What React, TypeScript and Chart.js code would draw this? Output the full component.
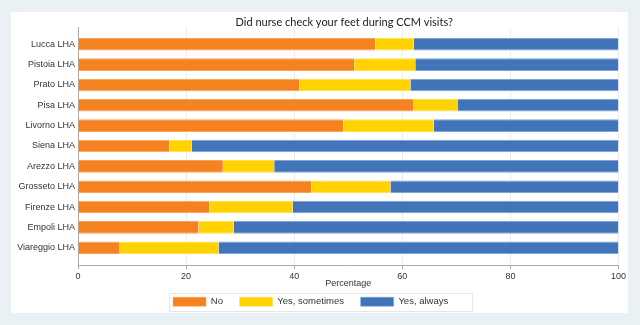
import React, { useEffect, useRef } from "react";
import { Chart, registerables } from "chart.js";

Chart.register(...registerables);

const categories = [
  "Lucca LHA",
  "Pistoia LHA",
  "Prato LHA",
  "Pisa LHA",
  "Livorno LHA",
  "Siena LHA",
  "Arezzo LHA",
  "Grosseto LHA",
  "Firenze LHA",
  "Empoli LHA",
  "Viareggio LHA",
];
const noValues = [55.0, 51.1, 41.0, 62.0, 49.1, 16.9, 26.8, 43.2, 24.3, 22.3, 7.6];
const sometimesValues = [7.1, 11.3, 20.5, 8.2, 16.7, 4.1, 9.5, 14.6, 15.4, 6.5, 18.4];
const alwaysValues = [37.9, 37.6, 38.5, 29.8, 34.2, 79.0, 63.7, 42.2, 60.3, 71.2, 74.0];
const seriesNames = ["No", "Yes, sometimes", "Yes, always"];
const xTicks = [0, 20, 40, 60, 80, 100];
const titleText = "Did nurse check your feet during CCM visits?";
const xTitle = "Percentage";

const FONT = "'Liberation Sans', Arial, sans-serif";
const LEGEND_SHIFT = 7;

export default function App() {
  const ref = useRef<HTMLCanvasElement | null>(null);

  useEffect(() => {
    document.body.style.margin = "0";
    const canvas = ref.current;
    if (!canvas) return;

    const toPts = (vals: number[]) => vals.map((v, i) => ({ x: v, y: i }));

    const titlePlugin = {
      id: "centeredTitle",
      afterDraw(chart: any) {
        const { ctx, chartArea } = chart;
        ctx.save();
        ctx.font = "11px Lato, sans-serif";
        ctx.fillStyle = "#222";
        ctx.textAlign = "center";
        ctx.textBaseline = "middle";
        ctx.fillText(titleText, (chartArea.left + chartArea.right) / 2 - 4, 10.5);
        ctx.restore();
      },
    };

    const legendShift = {
      id: "legendShift",
      afterLayout(chart: any) {
        const lg = chart.legend;
        if (!lg) return;
        lg.left += LEGEND_SHIFT;
        lg.right += LEGEND_SHIFT;
      },
    };

    const legendFrame = {
      id: "legendFrame",
      afterDraw(chart: any) {
        const lg = chart.legend;
        if (!lg || !lg.legendHitBoxes || !lg.legendHitBoxes.length) return;
        const boxes = lg.legendHitBoxes;
        const first = boxes[0];
        const last = boxes[boxes.length - 1];
        const { ctx } = chart;
        ctx.save();
        ctx.strokeStyle = "#e6e6e6";
        ctx.lineWidth = 1;
        ctx.strokeRect(
          Math.round(first.left - 4) + 0.5,
          Math.round(first.top - 4) + 0.5,
          Math.round(last.left + last.width - first.left + 4),
          18
        );
        ctx.restore();
      },
    };

    const chart = new Chart(canvas, {
      type: "bar",
      data: {
        datasets: [
          {
            label: seriesNames[0],
            data: toPts(noValues),
            backgroundColor: "#F58220",
            borderColor: "#F8A25A",
            borderWidth: { top: 1, bottom: 1, left: 0, right: 0 },
            borderSkipped: false,
          },
          {
            label: seriesNames[1],
            data: toPts(sometimesValues),
            backgroundColor: "#FFD200",
            borderColor: "#FFE04D",
            borderWidth: { top: 1, bottom: 1, left: 0, right: 0 },
            borderSkipped: false,
          },
          {
            label: seriesNames[2],
            data: toPts(alwaysValues),
            backgroundColor: "#4174B9",
            borderColor: "#7FA3D4",
            borderWidth: { top: 1, bottom: 1, left: 0, right: 0 },
            borderSkipped: false,
          },
        ] as any,
      },
      options: {
        indexAxis: "y",
        animation: false,
        responsive: false,
        maintainAspectRatio: false,
        layout: { padding: { top: 15, right: 8, left: 0, bottom: 0 } },
        datasets: { bar: { barPercentage: 0.62, categoryPercentage: 1 } },
        plugins: {
          title: { display: false },
          tooltip: { enabled: false },
          legend: {
            position: "bottom",
            maxHeight: 30,
            labels: {
              boxWidth: 33,
              boxHeight: 9,
              padding: 14,
              color: "#333",
              font: { family: FONT, size: 9.5 },
              generateLabels: (chart: any) => {
                const items = Chart.defaults.plugins.legend.labels.generateLabels(chart);
                return items.map((l: any, i: number) => ({
                  ...l,
                  text: l.text + (i === items.length - 1 ? "         " : " "),
                }));
              },
            },
          },
        },
        scales: {
          x: {
            type: "linear",
            stacked: true,
            min: 0,
            max: 100,
            afterBuildTicks: (scale: any) => {
              scale.ticks = xTicks.map((v) => ({ value: v }));
            },
            afterFit: (scale: any) => {
              scale.height = 18;
            },
            ticks: {
              color: "#333",
              padding: 2,
              font: { family: FONT, size: 9 },
            },
            grid: { color: "#ececec", tickColor: "#aaa", tickLength: 4 },
            border: { display: true, color: "#aaa" },
            title: {
              display: true,
              text: xTitle,
              color: "#333",
              padding: { top: 0, bottom: -5.5 },
              font: { family: FONT, size: 9, lineHeight: 1 },
            },
          },
          y: {
            type: "linear",
            stacked: true,
            reverse: true,
            offset: false,
            min: -0.85,
            max: 10.85,
            afterBuildTicks: (scale: any) => {
              scale.ticks = categories.map((_, i) => ({ value: i }));
            },
            afterFit: (scale: any) => {
              scale.width = 67;
            },
            ticks: {
              color: "#333",
              padding: 3,
              font: { family: FONT, size: 9 },
              callback: (v: any) => categories[Number(v)] ?? "",
            },
            grid: { display: false, drawTicks: false, offset: false },
            border: { display: true, color: "#aaa" },
          },
        },
      } as any,
      plugins: [titlePlugin, legendShift, legendFrame],
    });

    return () => chart.destroy();
  }, []);

  return (
    <div
      style={{
        position: "relative",
        width: 640,
        height: 325,
        background: "#e9f1f4",
        overflow: "hidden",
      }}
    >
      <div
        style={{
          position: "absolute",
          left: 11,
          top: 12,
          width: 617,
          height: 301,
          background: "#ffffff",
        }}
      >
        <canvas ref={ref} width={617} height={301} style={{ display: "block" }} />
      </div>
    </div>
  );
}
